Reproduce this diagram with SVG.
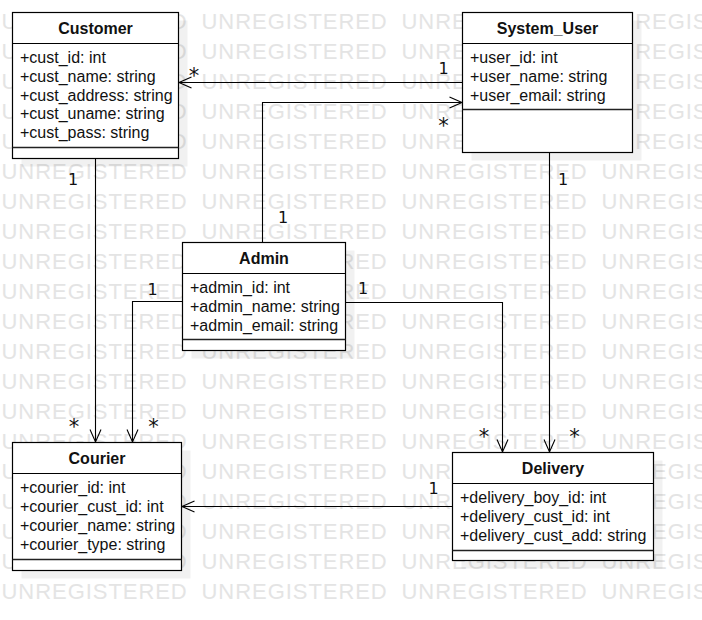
<svg xmlns="http://www.w3.org/2000/svg" width="702" height="620" viewBox="0 0 702 620">
<defs>
<style>
.wm{font-family:"Liberation Sans",Arial,sans-serif;font-size:22px;letter-spacing:0.95px;fill:#e4e4e4}
.box{fill:#fff;stroke:#000;stroke-width:1.2}
.shadow{fill:#000;fill-opacity:0.055}
.sep{stroke:#222;stroke-width:1.3}
.title{font-family:"Liberation Sans",Arial,sans-serif;font-size:16px;font-weight:bold;fill:#111;text-anchor:middle}
.attr{font-family:"Liberation Sans",Arial,sans-serif;font-size:16px;fill:#111}
.edge{fill:none;stroke:#000;stroke-width:1.1}
.lbl{font-family:"DejaVu Sans",sans-serif;font-size:16px;fill:#111;text-anchor:middle}
.star{font-family:"DejaVu Sans",sans-serif;font-size:21px;fill:#111;text-anchor:middle}
</style>
<marker id="open" markerUnits="userSpaceOnUse" markerWidth="16" markerHeight="14" viewBox="-14 -7 16 14" refX="0" refY="0" orient="auto">
<path d="M-12.5,-5.5 L0,0 L-12.5,5.5" fill="none" stroke="#000" stroke-width="1.1"/>
</marker>
</defs>
<rect x="0" y="0" width="702" height="620" fill="#fff"/>
<g id="watermark">
<text class="wm" y="29"><tspan x="1.5">UNREGISTERED</tspan><tspan x="201.5">UNREGISTERED</tspan><tspan x="401.5">UNREGISTERED</tspan><tspan x="601.5">UNREGIS</tspan></text>
<text class="wm" y="59"><tspan x="1.5">UNREGISTERED</tspan><tspan x="201.5">UNREGISTERED</tspan><tspan x="401.5">UNREGISTERED</tspan><tspan x="601.5">UNREGIS</tspan></text>
<text class="wm" y="89"><tspan x="1.5">UNREGISTERED</tspan><tspan x="201.5">UNREGISTERED</tspan><tspan x="401.5">UNREGISTERED</tspan><tspan x="601.5">UNREGIS</tspan></text>
<text class="wm" y="119"><tspan x="1.5">UNREGISTERED</tspan><tspan x="201.5">UNREGISTERED</tspan><tspan x="401.5">UNREGISTERED</tspan><tspan x="601.5">UNREGIS</tspan></text>
<text class="wm" y="149"><tspan x="1.5">UNREGISTERED</tspan><tspan x="201.5">UNREGISTERED</tspan><tspan x="401.5">UNREGISTERED</tspan><tspan x="601.5">UNREGIS</tspan></text>
<text class="wm" y="179"><tspan x="1.5">UNREGISTERED</tspan><tspan x="201.5">UNREGISTERED</tspan><tspan x="401.5">UNREGISTERED</tspan><tspan x="601.5">UNREGIS</tspan></text>
<text class="wm" y="209"><tspan x="1.5">UNREGISTERED</tspan><tspan x="201.5">UNREGISTERED</tspan><tspan x="401.5">UNREGISTERED</tspan><tspan x="601.5">UNREGIS</tspan></text>
<text class="wm" y="239"><tspan x="1.5">UNREGISTERED</tspan><tspan x="201.5">UNREGISTERED</tspan><tspan x="401.5">UNREGISTERED</tspan><tspan x="601.5">UNREGIS</tspan></text>
<text class="wm" y="269"><tspan x="1.5">UNREGISTERED</tspan><tspan x="201.5">UNREGISTERED</tspan><tspan x="401.5">UNREGISTERED</tspan><tspan x="601.5">UNREGIS</tspan></text>
<text class="wm" y="299"><tspan x="1.5">UNREGISTERED</tspan><tspan x="201.5">UNREGISTERED</tspan><tspan x="401.5">UNREGISTERED</tspan><tspan x="601.5">UNREGIS</tspan></text>
<text class="wm" y="329"><tspan x="1.5">UNREGISTERED</tspan><tspan x="201.5">UNREGISTERED</tspan><tspan x="401.5">UNREGISTERED</tspan><tspan x="601.5">UNREGIS</tspan></text>
<text class="wm" y="359"><tspan x="1.5">UNREGISTERED</tspan><tspan x="201.5">UNREGISTERED</tspan><tspan x="401.5">UNREGISTERED</tspan><tspan x="601.5">UNREGIS</tspan></text>
<text class="wm" y="389"><tspan x="1.5">UNREGISTERED</tspan><tspan x="201.5">UNREGISTERED</tspan><tspan x="401.5">UNREGISTERED</tspan><tspan x="601.5">UNREGIS</tspan></text>
<text class="wm" y="419"><tspan x="1.5">UNREGISTERED</tspan><tspan x="201.5">UNREGISTERED</tspan><tspan x="401.5">UNREGISTERED</tspan><tspan x="601.5">UNREGIS</tspan></text>
<text class="wm" y="449"><tspan x="1.5">UNREGISTERED</tspan><tspan x="201.5">UNREGISTERED</tspan><tspan x="401.5">UNREGISTERED</tspan><tspan x="601.5">UNREGIS</tspan></text>
<text class="wm" y="479"><tspan x="1.5">UNREGISTERED</tspan><tspan x="201.5">UNREGISTERED</tspan><tspan x="401.5">UNREGISTERED</tspan><tspan x="601.5">UNREGIS</tspan></text>
<text class="wm" y="509"><tspan x="1.5">UNREGISTERED</tspan><tspan x="201.5">UNREGISTERED</tspan><tspan x="401.5">UNREGISTERED</tspan><tspan x="601.5">UNREGIS</tspan></text>
<text class="wm" y="539"><tspan x="1.5">UNREGISTERED</tspan><tspan x="201.5">UNREGISTERED</tspan><tspan x="401.5">UNREGISTERED</tspan><tspan x="601.5">UNREGIS</tspan></text>
<text class="wm" y="569"><tspan x="1.5">UNREGISTERED</tspan><tspan x="201.5">UNREGISTERED</tspan><tspan x="401.5">UNREGISTERED</tspan><tspan x="601.5">UNREGIS</tspan></text>
<text class="wm" y="599"><tspan x="1.5">UNREGISTERED</tspan><tspan x="201.5">UNREGISTERED</tspan><tspan x="401.5">UNREGISTERED</tspan><tspan x="601.5">UNREGIS</tspan></text>
</g>
<g id="connectors">
<path class="edge" d="M462 82.5 H179" marker-end="url(#open)"/>
<path class="edge" d="M262.5 242 V102.5 H462" marker-end="url(#open)"/>
<path class="edge" d="M95.5 158 V442" marker-end="url(#open)"/>
<path class="edge" d="M182 301.5 H132.5 V442" marker-end="url(#open)"/>
<path class="edge" d="M346 302.5 H502.5 V452" marker-end="url(#open)"/>
<path class="edge" d="M549.5 152 V452" marker-end="url(#open)"/>
<path class="edge" d="M452 506.5 H182" marker-end="url(#open)"/>
<text class="star" x="194" y="82.5">*</text>
<text class="lbl" x="443.5" y="74">1</text>
<text class="lbl" x="283" y="223">1</text>
<text class="star" x="443.5" y="132.5">*</text>
<text class="lbl" x="73" y="184.5">1</text>
<text class="star" x="74" y="433.5">*</text>
<text class="lbl" x="152.5" y="294.5">1</text>
<text class="star" x="153.5" y="433.5">*</text>
<text class="lbl" x="363" y="294">1</text>
<text class="star" x="484" y="443.5">*</text>
<text class="lbl" x="563" y="184.5">1</text>
<text class="star" x="574.5" y="443.5">*</text>
<text class="lbl" x="433.5" y="494">1</text>
</g>
<g id="node-customer">
<rect class="shadow" x="21.5" y="20.5" width="166" height="146"/>
<rect class="box" x="12.5" y="12.5" width="166" height="146"/>
<line class="box" x1="12.5" y1="43.5" x2="178.5" y2="43.5"/>
<line class="sep" x1="12.5" y1="147.5" x2="178.5" y2="147.5"/>
<text class="title" x="95.5" y="34">Customer</text>
<text class="attr" x="20" y="63.2">+cust_id: int</text>
<text class="attr" x="20" y="82">+cust_name: string</text>
<text class="attr" x="20" y="100.7">+cust_address: string</text>
<text class="attr" x="20" y="119.4">+cust_uname: string</text>
<text class="attr" x="20" y="138.2">+cust_pass: string</text>
</g>
<g id="node-system-user">
<rect class="shadow" x="471.5" y="20.5" width="170" height="140"/>
<rect class="box" x="462.5" y="12.5" width="170" height="140"/>
<line class="box" x1="462.5" y1="43.5" x2="632.5" y2="43.5"/>
<line class="sep" x1="462.5" y1="109.5" x2="632.5" y2="109.5"/>
<text class="title" x="547.5" y="34">System_User</text>
<text class="attr" x="470" y="63.2">+user_id: int</text>
<text class="attr" x="470" y="82">+user_name: string</text>
<text class="attr" x="470" y="100.7">+user_email: string</text>
</g>
<g id="node-admin">
<rect class="shadow" x="191.5" y="250.5" width="163" height="108"/>
<rect class="box" x="182.5" y="242.5" width="163" height="108"/>
<line class="box" x1="182.5" y1="273.5" x2="345.5" y2="273.5"/>
<line class="sep" x1="182.5" y1="339.5" x2="345.5" y2="339.5"/>
<text class="title" x="264" y="264">Admin</text>
<text class="attr" x="190" y="293.2">+admin_id: int</text>
<text class="attr" x="190" y="312">+admin_name: string</text>
<text class="attr" x="190" y="330.7">+admin_email: string</text>
</g>
<g id="node-courier">
<rect class="shadow" x="21.5" y="450.5" width="169" height="128"/>
<rect class="box" x="12.5" y="442.5" width="169" height="128"/>
<line class="box" x1="12.5" y1="473.5" x2="181.5" y2="473.5"/>
<line class="sep" x1="12.5" y1="559.5" x2="181.5" y2="559.5"/>
<text class="title" x="97" y="464">Courier</text>
<text class="attr" x="20" y="493.2">+courier_id: int</text>
<text class="attr" x="20" y="512">+courier_cust_id: int</text>
<text class="attr" x="20" y="530.7">+courier_name: string</text>
<text class="attr" x="20" y="549.5">+courier_type: string</text>
</g>
<g id="node-delivery">
<rect class="shadow" x="461.5" y="460.5" width="201" height="108"/>
<rect class="box" x="452.5" y="452.5" width="201" height="108"/>
<line class="box" x1="452.5" y1="483.5" x2="653.5" y2="483.5"/>
<line class="sep" x1="452.5" y1="550.5" x2="653.5" y2="550.5"/>
<text class="title" x="553" y="474">Delivery</text>
<text class="attr" x="460" y="503.2">+delivery_boy_id: int</text>
<text class="attr" x="460" y="522">+delivery_cust_id: int</text>
<text class="attr" x="460" y="540.7">+delivery_cust_add: string</text>
</g>
</svg>
